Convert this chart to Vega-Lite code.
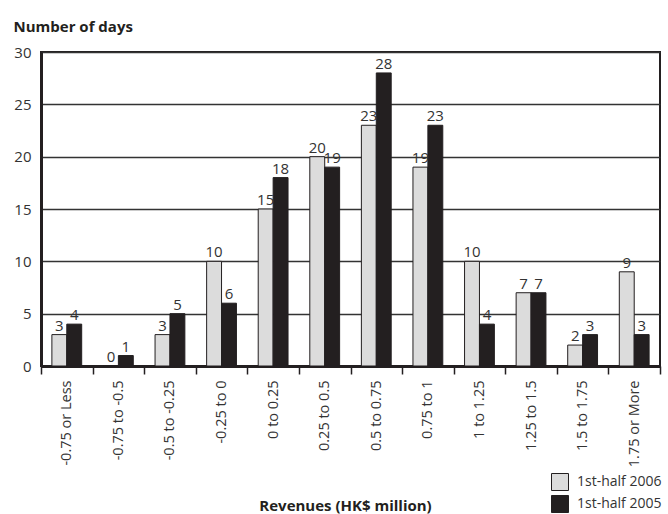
{
  "$schema": "https://vega.github.io/schema/vega-lite/v6.json",
  "autosize": "none",
  "width": 619,
  "height": 314,
  "padding": {"left": 41, "top": 52, "right": 8, "bottom": 148},
  "background": "white",
  "config": {
    "font": "Open Sans",
    "view": {"stroke": "#231f20", "strokeWidth": 2},
    "axis": {"labelFont": "Open Sans", "titleFont": "Open Sans"}
  },
  "data": {
    "values": [
      {"range": "-0.75 or Less", "period": "1st-half 2006", "days": 3},
      {"range": "-0.75 or Less", "period": "1st-half 2005", "days": 4},
      {"range": "-0.75 to -0.5", "period": "1st-half 2006", "days": 0},
      {"range": "-0.75 to -0.5", "period": "1st-half 2005", "days": 1},
      {"range": "-0.5 to -0.25", "period": "1st-half 2006", "days": 3},
      {"range": "-0.5 to -0.25", "period": "1st-half 2005", "days": 5},
      {"range": "-0.25 to 0", "period": "1st-half 2006", "days": 10},
      {"range": "-0.25 to 0", "period": "1st-half 2005", "days": 6},
      {"range": "0 to 0.25", "period": "1st-half 2006", "days": 15},
      {"range": "0 to 0.25", "period": "1st-half 2005", "days": 18},
      {"range": "0.25 to 0.5", "period": "1st-half 2006", "days": 20},
      {"range": "0.25 to 0.5", "period": "1st-half 2005", "days": 19},
      {"range": "0.5 to 0.75", "period": "1st-half 2006", "days": 23},
      {"range": "0.5 to 0.75", "period": "1st-half 2005", "days": 28},
      {"range": "0.75 to 1", "period": "1st-half 2006", "days": 19},
      {"range": "0.75 to 1", "period": "1st-half 2005", "days": 23},
      {"range": "1 to 1.25", "period": "1st-half 2006", "days": 10},
      {"range": "1 to 1.25", "period": "1st-half 2005", "days": 4},
      {"range": "1.25 to 1.5", "period": "1st-half 2006", "days": 7},
      {"range": "1.25 to 1.5", "period": "1st-half 2005", "days": 7},
      {"range": "1.5 to 1.75", "period": "1st-half 2006", "days": 2},
      {"range": "1.5 to 1.75", "period": "1st-half 2005", "days": 3},
      {"range": "1.75 or More", "period": "1st-half 2006", "days": 9},
      {"range": "1.75 or More", "period": "1st-half 2005", "days": 3}
    ]
  },
  "encoding": {
    "x": {
      "field": "range",
      "type": "nominal",
      "sort": null,
      "scale": {"paddingInner": 0, "paddingOuter": 0},
      "axis": {
        "title": "Revenues (HK$ million)",
        "titleFontWeight": "bold",
        "titleFontSize": 15,
        "titleColor": "#231f20",
        "titleX": 304,
        "titleY": 139,
        "titleBaseline": "middle",
        "labelAngle": -90,
        "labelFontSize": 14.5,
        "labelColor": "#333333",
        "labelPadding": 6,
        "tickBand": "extent",
        "tickSize": 8,
        "tickWidth": 1.5,
        "tickColor": "#231f20",
        "domainWidth": 3,
        "domainColor": "#231f20",
        "grid": false
      }
    },
    "xOffset": {
      "field": "period",
      "type": "nominal",
      "scale": {"domain": ["1st-half 2006", "1st-half 2005"], "paddingInner": 0, "paddingOuter": 0.73}
    },
    "y": {
      "field": "days",
      "type": "quantitative",
      "scale": {"domain": [0, 30]},
      "axis": {
        "title": "Number of days",
        "titleAngle": 0,
        "titleAlign": "left",
        "titleBaseline": "alphabetic",
        "titleX": -28,
        "titleY": -21,
        "titleFontWeight": "bold",
        "titleFontSize": 15,
        "titleColor": "#231f20",
        "values": [0, 5, 10, 15, 20, 25, 30],
        "labelFontSize": 15,
        "labelColor": "#333333",
        "labelPadding": 10,
        "ticks": false,
        "grid": true,
        "gridColor": "#333333",
        "gridWidth": 1.3,
        "domainWidth": 3,
        "domainColor": "#231f20"
      }
    }
  },
  "layer": [
    {
      "mark": {"type": "bar", "stroke": "#231f20", "strokeWidth": 1},
      "encoding": {
        "color": {
          "field": "period",
          "type": "nominal",
          "scale": {"domain": ["1st-half 2006", "1st-half 2005"], "range": ["#dcdcdc", "#231f20"]},
          "legend": {
            "title": null,
            "orient": "none",
            "legendX": 510,
            "legendY": 421,
            "symbolType": "square",
            "symbolSize": 289,
            "symbolStrokeColor": "#231f20",
            "symbolStrokeWidth": 1,
            "symbolOpacity": 1,
            "labelFontSize": 14,
            "labelColor": "#333333",
            "labelFont": "Open Sans",
            "labelOffset": 8,
            "rowPadding": 0
          }
        }
      }
    },
    {
      "mark": {"type": "text", "baseline": "alphabetic", "dy": -4, "fontSize": 15, "color": "#333333", "font": "Open Sans"},
      "encoding": {
        "text": {"field": "days", "type": "quantitative"}
      }
    }
  ]
}
